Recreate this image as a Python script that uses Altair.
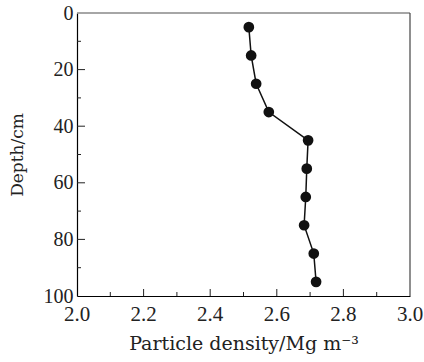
import altair as alt
import pandas as pd

density = [2.516, 2.523, 2.538, 2.576, 2.694, 2.690, 2.687, 2.682, 2.711, 2.718]
depth = [5, 15, 25, 35, 45, 55, 65, 75, 85, 95]

x_labels = [2.0, 2.2, 2.4, 2.6, 2.8, 3.0]
x_major = [2.2, 2.4, 2.6, 2.8]
x_minor = [2.1, 2.3, 2.5, 2.7, 2.9]
y_labels = [0, 20, 40, 60, 80, 100]
y_major = [20, 40, 60, 80]
y_minor = [10, 30, 50, 70, 90]

W, H = 333, 283
FONT = "Liberation Serif"
TFONT = "DejaVu Serif"

df = pd.DataFrame({"density": density, "depth": depth})

xs = alt.Scale(domain=[2.0, 3.0], nice=False)
ys = alt.Scale(domain=[0, 100], reverse=True, nice=False)

xaxis = alt.Axis(values=x_labels, labels=False, ticks=False, grid=False,
                 domainColor="black", domainWidth=1.2,
                 title="Particle density/Mg m⁻³", titlePadding=38,
                 titleFont=TFONT, titleFontSize=19, titleFontWeight="normal",
                 titleColor="#222")
yaxis = alt.Axis(values=y_labels, ticks=False, grid=False,
                 domainColor="black", domainWidth=1.2,
                 labelFont=FONT, labelFontSize=20, labelColor="#222", labelPadding=4,
                 title="Depth/cm", titlePadding=17,
                 titleFont=TFONT, titleFontSize=17, titleFontWeight="normal",
                 titleColor="#222")

line = alt.Chart(df).mark_line(color="#111", strokeWidth=1.5).encode(
    x=alt.X("density:Q", scale=xs, axis=xaxis),
    y=alt.Y("depth:Q", scale=ys, axis=yaxis),
    order="depth:Q",
)
pts = alt.Chart(df).mark_circle(color="#111", size=115, opacity=1).encode(
    x=alt.X("density:Q", scale=xs, axis=xaxis),
    y=alt.Y("depth:Q", scale=ys, axis=yaxis),
)

xlab = alt.Chart(pd.DataFrame({"v": x_labels})).transform_calculate(
    lab="format(datum.v, '.1f')"
).mark_text(font=FONT, fontSize=21, color="#222", baseline="alphabetic", align="center").encode(
    x=alt.X("v:Q", scale=xs, axis=xaxis), y=alt.value(H + 25), text="lab:N")

xmaj = alt.Chart(pd.DataFrame({"v": x_major})).mark_rule(color="#222", strokeWidth=1).encode(
    x=alt.X("v:Q", scale=xs, axis=xaxis), y=alt.value(H), y2=alt.value(H - 7))
xmin = alt.Chart(pd.DataFrame({"v": x_minor})).mark_rule(color="#222", strokeWidth=1).encode(
    x=alt.X("v:Q", scale=xs, axis=xaxis), y=alt.value(H), y2=alt.value(H - 4))
ymaj = alt.Chart(pd.DataFrame({"v": y_major})).mark_rule(color="#222", strokeWidth=1).encode(
    y=alt.Y("v:Q", scale=ys, axis=yaxis), x=alt.value(0), x2=alt.value(8))
ymin = alt.Chart(pd.DataFrame({"v": y_minor})).mark_rule(color="#222", strokeWidth=1).encode(
    y=alt.Y("v:Q", scale=ys, axis=yaxis), x=alt.value(0), x2=alt.value(4))

top = alt.Chart(pd.DataFrame({"a": [0]})).mark_rule(color="#888", strokeWidth=1.5).encode(
    x=alt.value(0), x2=alt.value(W), y=alt.value(0))
right = alt.Chart(pd.DataFrame({"a": [0]})).mark_rule(color="#444", strokeWidth=1.2).encode(
    x=alt.value(W), y=alt.value(0), y2=alt.value(H))

chart = alt.layer(top, right, xmaj, xmin, ymaj, ymin, xlab, line, pts).properties(
    width=W, height=H,
    autosize=alt.AutoSizeParams(type="none"),
    padding={"left": 77, "top": 13, "right": 14, "bottom": 66},
).configure_view(stroke=None)

chart.save("out.html", embed_options={"renderer": "svg", "actions": False})
